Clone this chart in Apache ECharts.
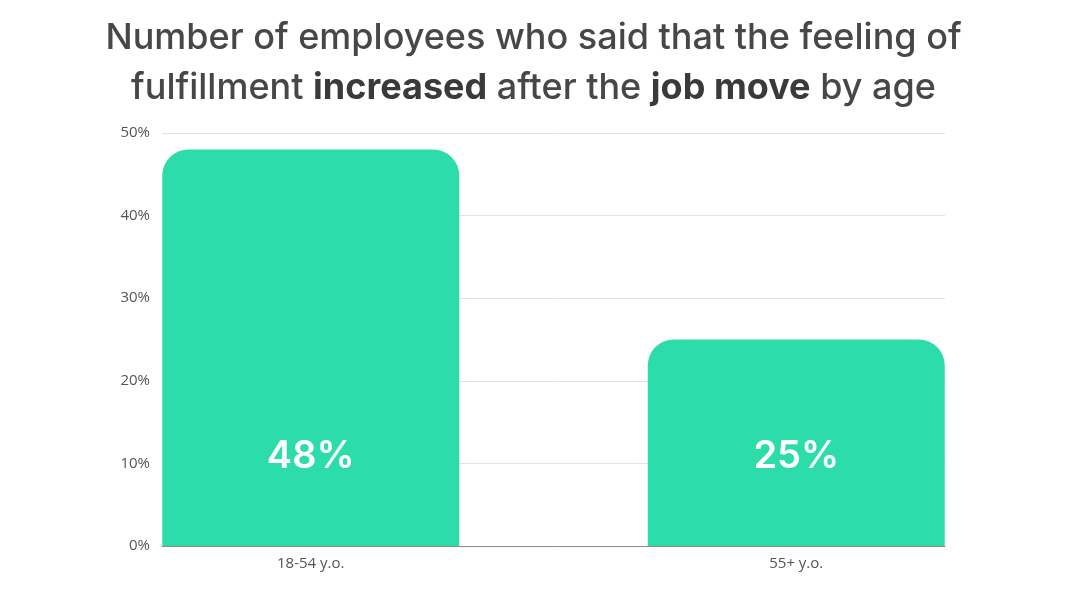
<!DOCTYPE html>
<html><head><meta charset="utf-8">
<script src="https://cdn.jsdelivr.net/npm/echarts@6/dist/echarts.min.js"></script>
<style>html,body{margin:0;padding:0;background:#fff}#c{width:1067px;height:600px}</style>
</head><body><div id="c"></div>
<script>
const categories = ['18-54 y.o.', '55+ y.o.'];
const values = [48, 25];
const yTicks = [0, 10, 20, 30, 40, 50];

const chart = echarts.init(document.getElementById('c'));
const yMin = yTicks[0], yMax = yTicks[yTicks.length - 1], yStep = yTicks[1] - yTicks[0];
const font = 'Inter, "Open Sans", sans-serif';
chart.setOption({
  backgroundColor: '#ffffff',
  animation: false,
  title: {
    left: 'center', top: 8,
    text: '{n|Number of employees who said that the feeling of}\n{n|fulfillment }{b|increased}{n| after the }{b|job move}{n| by age}',
    textStyle: {
      rich: {
        n: { fontFamily: font, fontSize: 36, fontWeight: 500, color: '#474747', lineHeight: 50 },
        b: { fontFamily: font, fontSize: 36, fontWeight: 700, color: '#3a3a3a', lineHeight: 50 }
      }
    }
  },
  grid: [
    { left: 162, right: 122, top: 133, bottom: 54 },
    { left: 68, right: 28, top: 133, bottom: 54 }
  ],
  xAxis: [
    { gridIndex: 0, type: 'category', data: categories,
      axisLine: { show: true, lineStyle: { color: '#8a8a8a', width: 1 } },
      axisTick: { show: false }, axisLabel: { show: false } },
    { gridIndex: 1, type: 'category', data: categories,
      axisLine: { show: false }, axisTick: { show: false },
      axisLabel: { color: '#555', fontSize: 15, fontFamily: '"Open Sans", sans-serif', margin: 10 } }
  ],
  yAxis: [
    { gridIndex: 0, type: 'value', min: yMin, max: yMax, interval: yStep,
      axisLine: { show: false }, axisTick: { show: false },
      axisLabel: { formatter: '{value}%', color: '#555', fontSize: 15, fontFamily: '"Open Sans", sans-serif', margin: 12 },
      splitLine: { show: true, lineStyle: { color: '#e3e3e3', width: 1 } } },
    { gridIndex: 1, type: 'value', min: yMin, max: yMax, interval: yStep, show: false }
  ],
  series: [{
    type: 'bar', xAxisIndex: 1, yAxisIndex: 1,
    data: values,
    barWidth: 297,
    itemStyle: { color: '#2cdcaa', borderRadius: [26, 26, 0, 0] },
    label: {
      show: true, position: 'insideBottom', distance: 70,
      formatter: '{c}%', color: '#ffffff', fontSize: 38, fontWeight: 600, fontFamily: font
    }
  }]
});
</script></body></html>
